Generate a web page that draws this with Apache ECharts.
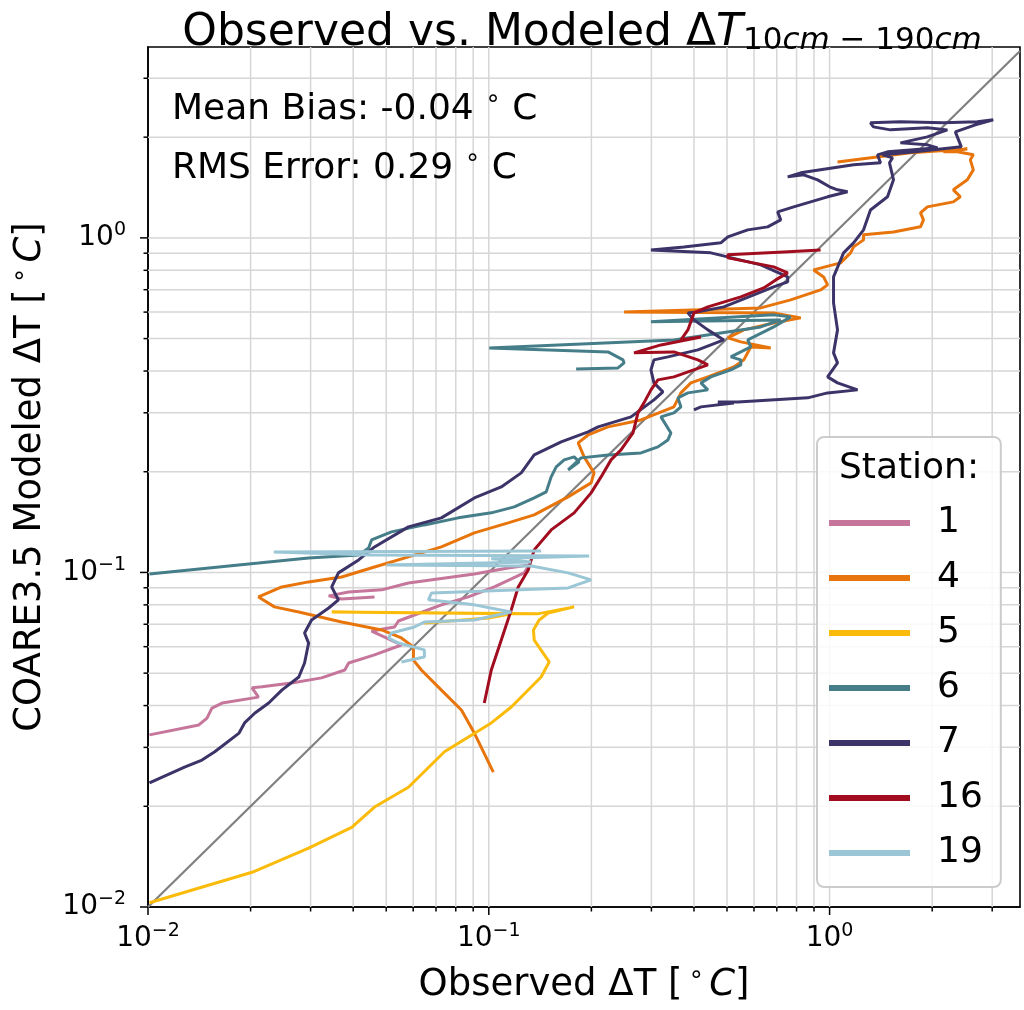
<!DOCTYPE html>
<html><head><meta charset="utf-8">
<script src="https://cdn.jsdelivr.net/npm/echarts@6/dist/echarts.min.js"></script>
<style>html,body{margin:0;padding:0;background:#fff}#c{width:1024px;height:1010px}</style>
</head><body><div id="c"></div>
<script>
const FONT = 'DejaVu Sans';
const stationNames = ['1', '4', '5', '6', '7', '16', '19'];
const stationColors = ['#c5769a', '#e8750c', '#fbbb0a', '#457e89', '#3c3468', '#a10d1e', '#9ac6d5'];

const station1 = [[0.0101,0.0327],[0.0141,0.035],[0.0149,0.0367],[0.0154,0.0393],[0.0165,0.0407],[0.0211,0.0424],[0.0202,0.0452],[0.0216,0.0455],[0.0264,0.0467],[0.0323,0.0484],[0.0378,0.0511],[0.0388,0.0536],[0.0462,0.0567],[0.0554,0.0607],[0.0453,0.0668],[0.0529,0.0687],[0.0543,0.0716],[0.0605,0.0746],[0.0726,0.08],[0.0871,0.0845],[0.1038,0.0905],[0.127,0.0997],[0.1314,0.1053],[0.114,0.1031],[0.0907,0.099],[0.0581,0.093],[0.0485,0.0887],[0.0388,0.0874],[0.0339,0.0851],[0.037,0.0833],[0.0462,0.0845]];

const station4 = [[0.1031,0.0253],[0.0907,0.0331],[0.0831,0.0388],[0.0726,0.0445],[0.0634,0.0511],[0.0601,0.0547],[0.0601,0.0599],[0.0554,0.0637],[0.0485,0.0673],[0.037,0.0711],[0.0277,0.0762],[0.0235,0.0789],[0.0211,0.0845],[0.0247,0.0905],[0.0296,0.0937],[0.037,0.0969],[0.0462,0.1038],[0.0581,0.1113],[0.0726,0.1192],[0.0907,0.1313],[0.114,0.1406],[0.1359,0.1486],[0.1709,0.1682],[0.1996,0.1852],[0.2037,0.1984],[0.1904,0.2215],[0.1829,0.2439],[0.1956,0.2576],[0.2238,0.2723],[0.2796,0.2857],[0.3493,0.3125],[0.3662,0.3441],[0.3917,0.3686],[0.4393,0.3842],[0.5236,0.4115],[0.5601,0.4319],[0.5871,0.4721],[0.6718,0.469],[0.5489,0.4888],[0.5028,0.5024],[0.5601,0.5309],[0.6856,0.5569],[0.8227,0.5766],[0.6856,0.5968],[0.2494,0.6009],[0.6281,0.6176],[0.7688,0.6526],[0.941,0.699],[0.9865,0.7237],[0.9603,0.7645],[0.8977,0.8022],[1.077,0.842],[1.152,0.902],[1.176,0.9399],[1.258,0.9863],[1.258,1.021],[1.54,1.042],[1.848,1.079],[1.886,1.132],[1.848,1.188],[1.936,1.238],[2.307,1.281],[2.419,1.327],[2.307,1.392],[2.536,1.491],[2.641,1.597],[2.588,1.711],[2.641,1.771],[2.371,1.808],[2.157,1.808],[2.536,1.845],[1.727,1.796],[1.055,1.687]];

const station5 = [[0.0101,0.0103],[0.0202,0.0127],[0.0296,0.015],[0.0396,0.0173],[0.0462,0.0199],[0.0581,0.0228],[0.0741,0.0291],[0.1017,0.0355],[0.1164,0.0396],[0.1424,0.0487],[0.1504,0.054],[0.1359,0.0628],[0.1352,0.0673],[0.1405,0.0721],[0.1494,0.0756],[0.178,0.0789],[0.139,0.0752],[0.0346,0.0762],[0.1164,0.0752],[0.0997,0.0731],[0.0647,0.0706]];

const station6 = [[0.0101,0.099],[0.0151,0.1031],[0.0211,0.1067],[0.0296,0.1105],[0.0415,0.1128],[0.0444,0.1184],[0.0453,0.1251],[0.0518,0.1322],[0.0647,0.1387],[0.0814,0.1456],[0.1017,0.1507],[0.1188,0.157],[0.1359,0.167],[0.1474,0.1741],[0.1524,0.193],[0.1577,0.2067],[0.1664,0.217],[0.178,0.2215],[0.1841,0.214],[0.1709,0.2025],[0.1866,0.22],[0.2238,0.2245],[0.2796,0.2277],[0.3135,0.2373],[0.3354,0.2489],[0.3423,0.2612],[0.32,0.2917],[0.3493,0.2999],[0.3662,0.3125],[0.3589,0.3325],[0.3839,0.3441],[0.4393,0.3513],[0.4192,0.3686],[0.4483,0.3842],[0.5131,0.4031],[0.5489,0.4172],[0.5489,0.4319],[0.5131,0.4409],[0.5489,0.4563],[0.5871,0.4721],[0.5752,0.4955],[0.5991,0.5058],[0.6856,0.5418],[0.7688,0.5806],[0.6856,0.5887],[0.2991,0.561],[0.7186,0.5687],[0.6281,0.5418],[0.3493,0.4955],[0.1003,0.469],[0.2238,0.4563],[0.2477,0.4319],[0.2494,0.4229],[0.2394,0.4087],[0.1804,0.4059]];

const station7 = [[0.0101,0.0235],[0.0128,0.0262],[0.0144,0.0275],[0.0157,0.0291],[0.0185,0.0331],[0.0192,0.0355],[0.0206,0.038],[0.0226,0.0407],[0.0247,0.0445],[0.0277,0.0487],[0.0288,0.0536],[0.0296,0.0615],[0.0288,0.0659],[0.0302,0.0721],[0.0339,0.0783],[0.0362,0.0828],[0.0346,0.0905],[0.0362,0.0997],[0.0415,0.109],[0.0462,0.1192],[0.0581,0.1368],[0.0726,0.1456],[0.0907,0.167],[0.1088,0.1801],[0.1245,0.1984],[0.1359,0.2245],[0.1631,0.2455],[0.1956,0.263],[0.2093,0.2723],[0.2614,0.2917],[0.3052,0.328],[0.3243,0.3464],[0.3052,0.3686],[0.2991,0.4031],[0.3052,0.4319],[0.3354,0.4409],[0.4107,0.4626],[0.4894,0.4955],[0.4393,0.5309],[0.3999,0.5687],[0.3839,0.5968],[0.4107,0.6009],[0.4894,0.6219],[0.6856,0.7137],[0.7535,0.7388],[0.7535,0.7645],[0.6281,0.8304],[0.4483,0.9021],[0.2991,0.9206],[0.3736,0.9399],[0.4796,0.9663],[0.5028,1.007],[0.5752,1.0566],[0.6582,1.0787],[0.7186,1.1319],[0.7042,1.196],[0.7846,1.238],[0.9865,1.3266],[1.129,1.3731],[1.0553,1.3921],[1.0,1.4212],[0.9223,1.4911],[0.8394,1.5433],[0.7535,1.5222],[0.8227,1.5647],[1.176,1.6533],[1.4108,1.6762],[1.382,1.7709],[1.4787,1.8079],[1.727,1.8323],[2.072,1.858],[1.936,1.897],[1.614,1.923],[1.936,2.004],[2.216,2.103],[1.936,2.133],[1.509,2.103],[1.345,2.147],[1.318,2.207],[1.614,2.223],[2.157,2.207],[2.713,2.223],[3.022,2.253],[2.677,2.177],[2.339,2.074],[2.435,1.871],[1.786,1.808],[1.43,1.771],[1.53,1.735],[1.499,1.676],[1.54,1.491],[1.479,1.327],[1.318,1.212],[1.258,1.057],[1.176,0.966],[1.099,0.902],[1.027,0.7645],[1.027,0.6393],[1.055,0.5309],[1.027,0.4532],[1.055,0.4229],[0.9865,0.3842],[1.055,0.3686],[1.208,0.3513],[0.9865,0.3441],[0.8624,0.3325],[0.5379,0.3234],[0.4699,0.3234],[0.5236,0.3212],[0.4192,0.3125],[0.3999,0.306]];

const station16 = [[0.097,0.0407],[0.1017,0.0511],[0.1088,0.0628],[0.1164,0.0773],[0.122,0.0905],[0.1305,0.1017],[0.1359,0.1168],[0.1524,0.134],[0.178,0.1507],[0.1996,0.1729],[0.2135,0.193],[0.2284,0.217],[0.2443,0.2324],[0.2649,0.2612],[0.274,0.2999],[0.2853,0.3212],[0.2991,0.3513],[0.3135,0.3763],[0.3493,0.3842],[0.4393,0.4172],[0.4107,0.4319],[0.3493,0.4563],[0.2668,0.4532],[0.32,0.4787],[0.4192,0.5058],[0.3662,0.4955],[0.3839,0.5309],[0.3999,0.5968],[0.4393,0.6219],[0.5489,0.6663],[0.6409,0.7088],[0.695,0.7489],[0.7535,0.7861],[0.6856,0.819],[0.5028,0.8714],[0.5028,0.8897],[0.7334,0.9081],[0.941,0.9206]];

const station19 = [[0.0554,0.054],[0.0647,0.0559],[0.0647,0.0587],[0.0543,0.0615],[0.0508,0.0637],[0.0518,0.0659],[0.0605,0.0687],[0.0647,0.0711],[0.0907,0.0721],[0.1164,0.0762],[0.0907,0.08],[0.0665,0.0828],[0.0679,0.0868],[0.1709,0.0899],[0.1996,0.095],[0.1709,0.0997],[0.1332,0.1046],[0.0501,0.1053],[0.1332,0.1075],[0.1017,0.1098],[0.197,0.112],[0.0453,0.1128],[0.0234,0.1152],[0.1424,0.116]];

const stationData = [station1, station4, station5, station6, station7, station16, station19];
const oneToOne = [[0.01, 0.01], [3.62, 3.62]];

const xRange = [0.01, 3.62];
const yRange = [0.01, 3.72];
const xMajorTicks = [0.01, 0.1, 1];
const xMinorTicks = [0.02,0.03,0.04,0.05,0.06,0.07,0.08,0.09,0.2,0.3,0.4,0.5,0.6,0.7,0.8,0.9,2,3];
const yMajorTicks = [0.01, 0.1, 1];
const yMinorTicks = [0.02,0.03,0.04,0.05,0.06,0.07,0.08,0.09,0.2,0.3,0.4,0.5,0.6,0.7,0.8,0.9,2,3];

const GRID_COLOR = '#d6d6d6';

const chart = echarts.init(document.getElementById('c'), null, {renderer: 'canvas'});

function tickLabel(v) {
  const e = Math.log10(v);
  const r = Math.round(e);
  if (Math.abs(e - r) > 1e-6) return '';
  return '{b|10}{s|' + (r < 0 ? '\u2212' : '') + Math.abs(r) + '}';
}
const tickRich = {
  b: {fontFamily: FONT, fontSize: 28, lineHeight: 28, verticalAlign: 'bottom', color: '#000'},
  s: {fontFamily: FONT, fontSize: 19, lineHeight: 19, verticalAlign: 'bottom', padding: [0, 0, 12, 0], color: '#000'}
};
const nameRich = {
  m: {fontFamily: FONT, fontSize: 37, lineHeight: 37, verticalAlign: 'bottom', color: '#000'},
  i: {fontFamily: FONT, fontSize: 37, lineHeight: 37, verticalAlign: 'bottom', fontStyle: 'italic', color: '#000'},
  s: {fontFamily: FONT, fontSize: 25, lineHeight: 25, verticalAlign: 'bottom', padding: [0, 5, 16, 6], color: '#000'}
};

function vRender(params, api) {
  const v = api.value(0), major = api.value(2);
  const b = api.coord([v, yRange[0]]), t = api.coord([v, yRange[1]]);
  const children = [];
  if (v > xRange[0] * 1.0001) {
    children.push({type: 'line', shape: {x1: b[0], y1: b[1], x2: t[0], y2: t[1]}, style: {stroke: GRID_COLOR, lineWidth: 1.5}});
  }
  children.push({type: 'line', shape: {x1: b[0], y1: b[1], x2: b[0], y2: b[1] + (major ? 8 : 4.5)}, style: {stroke: '#000', lineWidth: 1.5}});
  return {type: 'group', children: children};
}
function hRender(params, api) {
  const v = api.value(1), major = api.value(2);
  const l = api.coord([xRange[0], v]), r = api.coord([xRange[1], v]);
  const children = [];
  if (v > yRange[0] * 1.0001) {
    children.push({type: 'line', shape: {x1: l[0], y1: l[1], x2: r[0], y2: r[1]}, style: {stroke: GRID_COLOR, lineWidth: 1.5}});
  }
  children.push({type: 'line', shape: {x1: l[0], y1: l[1], x2: l[0] - (major ? 8 : 4.5), y2: l[1]}, style: {stroke: '#000', lineWidth: 1.5}});
  return {type: 'group', children: children};
}

const vData = xMajorTicks.map(v => [v, yRange[0], 1]).concat(xMinorTicks.map(v => [v, yRange[0], 0]));
const hData = yMajorTicks.map(v => [xRange[0], v, 1]).concat(yMinorTicks.map(v => [xRange[0], v, 0]));

const series = [
  {type: 'custom', name: 'vgrid', renderItem: vRender, data: vData, encode: {x: 0, y: 1}, clip: false, silent: true, z: 1},
  {type: 'custom', name: 'hgrid', renderItem: hRender, data: hData, encode: {x: 0, y: 1}, clip: false, silent: true, z: 1},
  {type: 'line', name: '1:1', data: oneToOne, symbol: 'none', showSymbol: false, lineStyle: {color: '#808080', width: 2.2}, silent: true, z: 2, clip: true}
];
stationNames.forEach((n, i) => {
  series.push({
    type: 'line', name: n, data: stationData[i], symbol: 'none', showSymbol: false,
    lineStyle: {color: stationColors[i], width: 3}, itemStyle: {color: stationColors[i]},
    z: 3, clip: true
  });
});

const option = {
  animation: false,
  backgroundColor: '#fff',
  grid: {left: 146, right: 4, top: 47, bottom: 103, show: true, borderColor: '#000', borderWidth: 1.6, backgroundColor: 'transparent'},
  xAxis: {
    type: 'log', logBase: 10, min: xRange[0], max: xRange[1],
    axisLine: {show: true, lineStyle: {color: '#000', width: 1.6}},
    axisTick: {show: false}, splitLine: {show: false}, minorTick: {show: false},
    axisLabel: {formatter: tickLabel, rich: tickRich, margin: 18, showMaxLabel: false},
    name: '{m|Observed \u0394T [}{s|\u2218}{i|C}{m|]}',
    nameLocation: 'middle', nameGap: 60,
    nameTextStyle: {rich: nameRich}
  },
  yAxis: {
    type: 'log', logBase: 10, min: yRange[0], max: yRange[1],
    axisLine: {show: true, lineStyle: {color: '#000', width: 1.6}},
    axisTick: {show: false}, splitLine: {show: false}, minorTick: {show: false},
    axisLabel: {formatter: tickLabel, rich: tickRich, margin: 22, showMaxLabel: false},
    name: '{m|COARE3.5 Modeled \u0394T [}{s|\u2218}{i|C}{m|]}',
    nameLocation: 'middle', nameGap: 99, nameRotate: 90,
    nameTextStyle: {rich: nameRich}
  },
  legend: {
    data: stationNames, orient: 'vertical', left: 817, top: 437,
    padding: [66, 18, 14, 12], itemGap: 15, itemWidth: 81, itemHeight: 6, icon: 'rect',
    backgroundColor: 'rgba(255,255,255,0.85)', borderColor: '#cccccc', borderWidth: 2, borderRadius: 7,
    textStyle: {fontFamily: FONT, fontSize: 36, lineHeight: 40, color: '#000', padding: [0, 0, 0, 22]},
    selectedMode: false, z: 10
  },
  graphic: [
    {type: 'text', x: 582, y: 34, z: 20, style: {
      text: '{m|Observed vs. Modeled \u0394}{i|T}{s|10}{si|cm}{s| \u2212 190}{si|cm}',
      align: 'center', verticalAlign: 'middle', textAlign: 'center', textVerticalAlign: 'middle',
      rich: {
        m: {fontFamily: FONT, fontSize: 44, lineHeight: 44, verticalAlign: 'bottom', fill: '#000', color: '#000'},
        i: {fontFamily: FONT, fontSize: 44, lineHeight: 44, verticalAlign: 'bottom', fontStyle: 'italic', fill: '#000', color: '#000'},
        s: {fontFamily: FONT, fontSize: 31, lineHeight: 31, verticalAlign: 'bottom', fill: '#000', color: '#000'},
        si: {fontFamily: FONT, fontSize: 31, lineHeight: 31, verticalAlign: 'bottom', fontStyle: 'italic', fill: '#000', color: '#000'}
      }
    }},
    {type: 'text', x: 172, y: 110, z: 20, style: {
      text: '{a|Mean Bias: -0.04 }{s|\u2218}{a| C}',
      verticalAlign: 'middle', textVerticalAlign: 'middle',
      rich: {
        a: {fontFamily: FONT, fontSize: 36, lineHeight: 36, verticalAlign: 'bottom', fill: '#000', color: '#000'},
        s: {fontFamily: FONT, fontSize: 25, lineHeight: 25, verticalAlign: 'bottom', padding: [0, 0, 16, 0], fill: '#000', color: '#000'}
      }
    }},
    {type: 'text', x: 172, y: 169, z: 20, style: {
      text: '{a|RMS Error: 0.29 }{s|\u2218}{a| C}',
      verticalAlign: 'middle', textVerticalAlign: 'middle',
      rich: {
        a: {fontFamily: FONT, fontSize: 36, lineHeight: 36, verticalAlign: 'bottom', fill: '#000', color: '#000'},
        s: {fontFamily: FONT, fontSize: 25, lineHeight: 25, verticalAlign: 'bottom', padding: [0, 0, 16, 0], fill: '#000', color: '#000'}
      }
    }},
    {type: 'text', x: 909, y: 469, z: 100, style: {
      text: 'Station:', font: '36px "DejaVu Sans"', fill: '#000',
      align: 'center', verticalAlign: 'middle', textAlign: 'center', textVerticalAlign: 'middle'
    }}
  ],
  series: series
};
chart.setOption(option);
</script>
</body></html>
